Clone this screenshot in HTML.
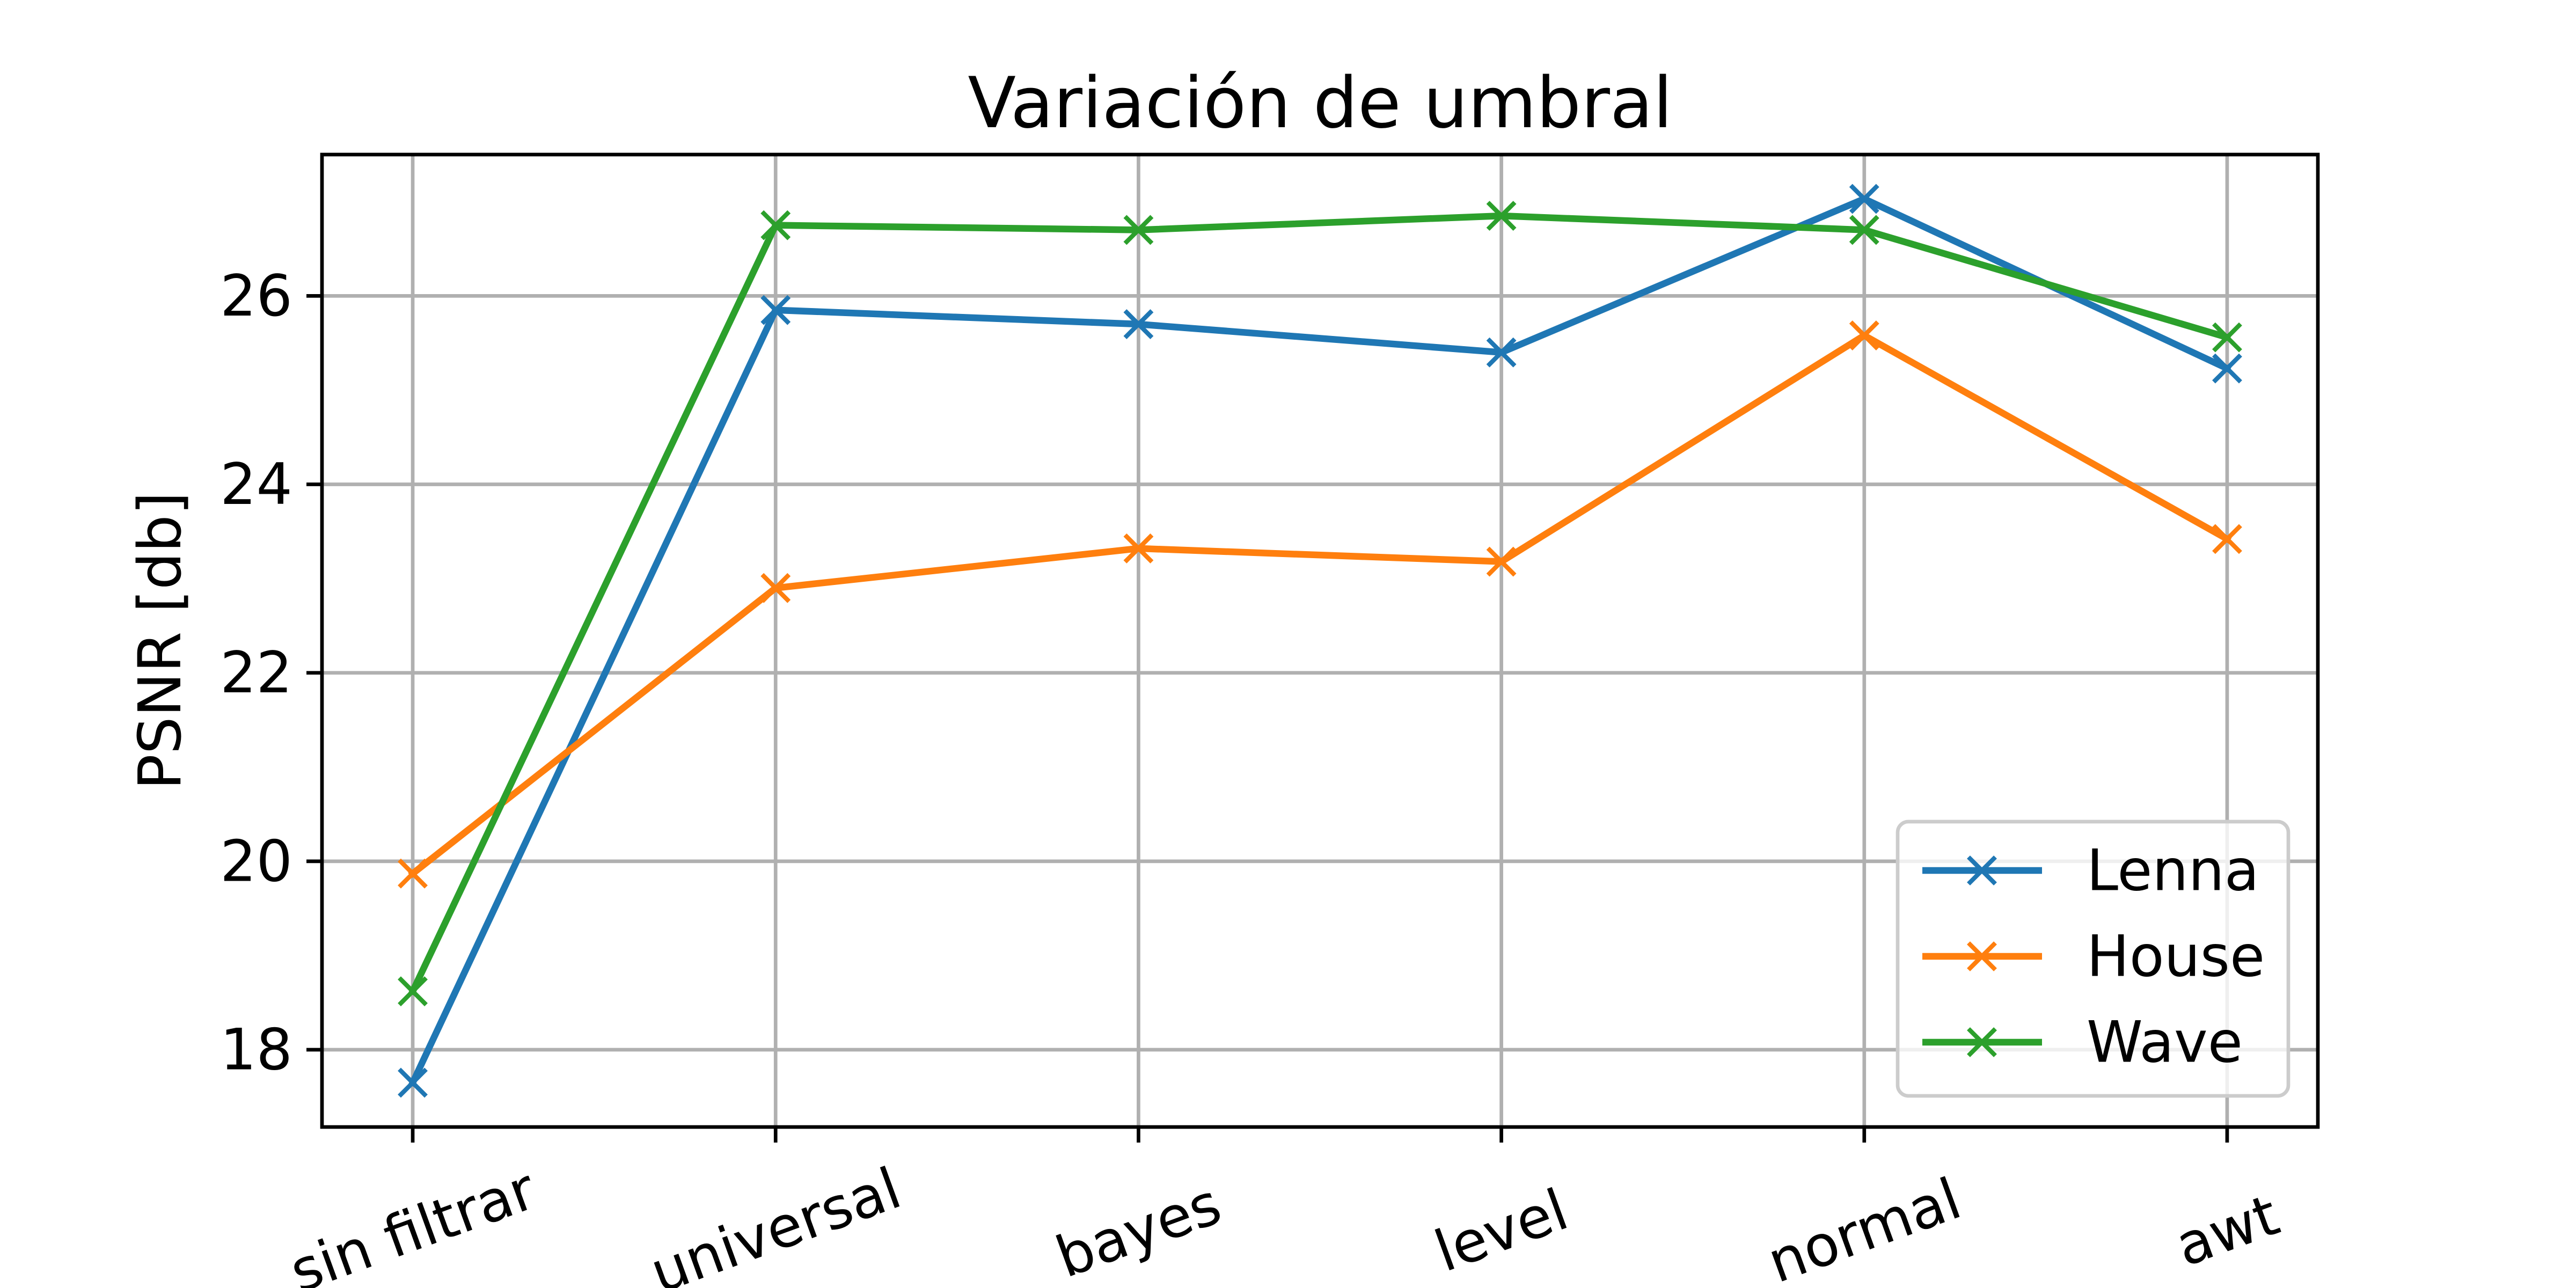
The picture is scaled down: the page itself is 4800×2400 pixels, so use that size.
<!DOCTYPE html>
<html><head><meta charset="utf-8"><style>
html,body{margin:0;padding:0;background:#fff;}
svg{display:block;font-family:"DejaVu Sans","Liberation Sans",sans-serif;}
</style></head><body>
<svg id="chart" width="4800" height="2400" viewBox="0 0 4800 2400" xmlns="http://www.w3.org/2000/svg">
<rect width="4800" height="2400" fill="#fff"/>
<g id="grid"></g>
<g id="series"></g>
<rect x="600" y="288" width="3719" height="1812" fill="none" stroke="#000" stroke-width="6.7"/>
<g id="ticks"></g>
<text x="2460" y="237" font-size="131" text-anchor="middle">Variación de umbral</text>
<text x="0" y="0" font-size="110" text-anchor="middle" transform="translate(336,1194) rotate(-90)">PSNR [db]</text>
<g id="legend"></g>
</svg>
<script>
const categories = ["sin filtrar","universal","bayes","level","normal","awt"];
const lenna = [17.65, 25.85, 25.7, 25.4, 27.03, 25.23];
const house = [19.87, 22.9, 23.32, 23.18, 25.58, 23.42];
const wave = [18.62, 26.75, 26.7, 26.85, 26.7, 25.56];
const yTicks = [18, 20, 22, 24, 26];
const seriesNames = ["Lenna","House","Wave"];
const colors = ["#1f77b4","#ff7f0e","#2ca02c"];

const L=600,R=4319,T=288,B=2100;
const yMin=17.18,yMax=27.5;
function x(i){return L+(i+0.25)/(categories.length-1+0.5)*(R-L);}
function y(v){return B-(v-yMin)/(yMax-yMin)*(B-T);}
const NS="http://www.w3.org/2000/svg";
function mk(tag,attrs,parent){const e=document.createElementNS(NS,tag);for(const k in attrs)e.setAttribute(k,attrs[k]);parent.appendChild(e);return e;}
const grid=document.getElementById('grid'),ticks=document.getElementById('ticks'),ser=document.getElementById('series'),leg=document.getElementById('legend');

categories.forEach((c,i)=>{
  const g=mk('line',{x1:x(i),x2:x(i),y1:T,y2:B,stroke:'#b0b0b0','stroke-width':6.7},grid);
  
  
  const t=mk('line',{x1:x(i),x2:x(i),y1:B,y2:B+29,stroke:'#000','stroke-width':6.7},ticks);
  
  
  const lb=mk('text',{x:0,y:0,'font-size':106,'text-anchor':'middle','dominant-baseline':'central',transform:`translate(${x(i)},2293) rotate(-20)`},ticks);
  lb.textContent=c;
  
  
});
yTicks.forEach(v=>{
  const g=mk('line',{x1:L,x2:R,y1:y(v),y2:y(v),stroke:'#b0b0b0','stroke-width':6.7},grid);
  
  
  const t=mk('line',{x1:L-29,x2:L,y1:y(v),y2:y(v),stroke:'#000','stroke-width':6.7},ticks);
  
  
  const lb=mk('text',{x:L-55,y:y(v),'font-size':106,'text-anchor':'end','dominant-baseline':'central'},ticks);
  lb.textContent=v;
  
  
});
function marker(cx,cy,col,parent){
  const s=25;
  const m=mk('path',{d:`M${cx-s},${cy-s}L${cx+s},${cy+s}M${cx-s},${cy+s}L${cx+s},${cy-s}`,stroke:col,'stroke-width':8.3,fill:'none'},parent);
  
  
}
[lenna,house,wave].forEach((d,si)=>{
  const g=mk('g',{},ser);
  
  
  const p=mk('polyline',{points:d.map((v,i)=>x(i)+','+y(v)).join(' '),fill:'none',stroke:colors[si],'stroke-width':12.5,'stroke-linejoin':'round','stroke-linecap':'square'},g);
  
  
  d.forEach((v,i)=>marker(x(i),y(v),colors[si],g));
});
const box=mk('rect',{x:3536,y:1531,width:728,height:511,rx:20,fill:'#fff','fill-opacity':0.8,stroke:'#cccccc','stroke-width':6.7},leg);


seriesNames.forEach((n,i)=>{
  const yy=1622+i*160;
  const g=mk('g',{},leg);
  
  
  mk('line',{x1:3582,x2:3805,y1:yy,y2:yy,stroke:colors[i],'stroke-width':12.5},g);
  marker(3693,yy,colors[i],g);
  const t=mk('text',{x:3888,y:yy,'font-size':106,'dominant-baseline':'central'},g);
  t.textContent=n;
  
  
});
</script>
</body></html>
